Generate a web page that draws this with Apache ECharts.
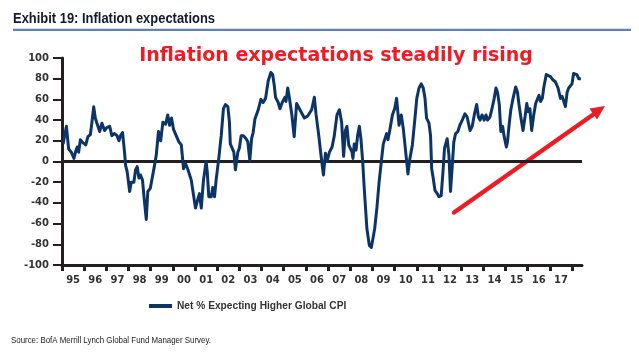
<!DOCTYPE html>
<html><head><meta charset="utf-8">
<script src="https://cdn.jsdelivr.net/npm/echarts@6/dist/echarts.min.js"></script>
<style>html,body{margin:0;padding:0;background:#fff}#c{width:639px;height:355px}</style>
</head><body><div id="c"></div>
<script>
const chartTitle = 'Exhibit 19: Inflation expectations';
const annotation = 'Inflation expectations steadily rising';
const seriesName = 'Net % Expecting Higher Global CPI';
const sourceNote = 'Source: BofA Merrill Lynch Global Fund Manager Survey.';
const yearTicks = [1995,1996,1997,1998,1999,2000,2001,2002,2003,2004,2005,2006,2007,2008,2009,2010,2011,2012,2013,2014,2015,2016,2017,2018];
const yearLabels = ['95','96','97','98','99','00','01','02','03','04','05','06','07','08','09','10','11','12','13','14','15','16','17'];

const dates = [
1995.05,1995.20,1995.30,1995.42,1995.54,1995.62,1995.69,1995.75,1995.83,1995.95,
1996.07,1996.17,1996.28,1996.35,1996.43,1996.50,1996.62,1996.70,1996.80,1996.92,
1997.03,1997.15,1997.25,1997.37,1997.48,1997.57,1997.64,1997.73,1997.82,1997.87,1997.94,
1998.05,1998.12,1998.24,1998.32,1998.39,1998.47,1998.54,1998.63,1998.72,1998.80,1998.87,1998.98,
1999.07,1999.17,1999.25,1999.35,1999.45,1999.55,1999.67,1999.77,1999.85,1999.94,
2000.03,2000.15,2000.27,2000.38,2000.48,2000.57,2000.68,2000.83,2000.90,
2001.02,2001.13,2001.20,2001.28,2001.38,2001.50,2001.55,2001.62,2001.73,2001.80,2001.88,2001.95,
2002.07,2002.18,2002.28,2002.37,2002.48,2002.55,2002.59,2002.67,2002.75,2002.82,2002.93,
2003.00,2003.08,2003.18,2003.30,2003.38,2003.47,2003.55,2003.62,2003.70,2003.85,2003.97,
2004.07,2004.18,2004.30,2004.42,2004.50,2004.57,2004.63,2004.75,2004.83,2004.93,
2005.05,2005.10,2005.18,2005.25,2005.36,2005.47,2005.58,2005.73,2005.93,
2006.08,2006.26,2006.38,2006.46,2006.58,2006.68,2006.79,2006.88,2006.95,
2007.06,2007.18,2007.28,2007.40,2007.51,2007.61,2007.70,2007.78,2007.85,2007.93,
2008.00,2008.08,2008.12,2008.18,2008.26,2008.33,2008.41,2008.48,2008.56,2008.63,2008.75,2008.86,2008.95,
2009.10,2009.20,2009.30,2009.40,2009.49,2009.57,2009.64,2009.70,2009.78,2009.90,
2010.00,2010.09,2010.20,2010.30,2010.39,2010.50,2010.60,2010.69,2010.80,2010.90,
2011.00,2011.10,2011.20,2011.29,2011.37,2011.44,2011.55,2011.62,2011.67,2011.74,2011.82,2011.92,
2012.00,2012.10,2012.19,2012.25,2012.37,2012.45,2012.52,2012.60,2012.67,2012.75,2012.85,2012.94,
2013.05,2013.17,2013.27,2013.40,2013.50,2013.60,2013.70,2013.78,2013.85,2013.94,
2014.04,2014.12,2014.19,2014.30,2014.39,2014.49,2014.57,2014.64,2014.72,2014.79,2014.87,2014.94,
2015.04,2015.09,2015.16,2015.24,2015.34,2015.46,2015.54,2015.61,2015.69,2015.79,2015.88,2015.96,
2016.03,2016.10,2016.18,2016.28,2016.36,2016.43,2016.51,2016.58,2016.66,2016.73,2016.84,2016.93,
2017.03,2017.13,2017.25,2017.37,2017.48,2017.55,2017.63,2017.70,2017.78,2017.85,2017.93,
2018.00,2018.07,2018.15,2018.22,2018.30,2018.40
];
const values = [
17,34,12,9,3,10,14,9,21,18,
16,24,26,38,53,42,34,29,37,30,
33,34,25,27,25,20,25,28,9,-4,-10,
-29,-20,-20,-8,-5,-16,-13,-18,-39,-56,-29,-26,
-25,-4,6,29,20,38,36,45,35,42,
31,25,19,16,-7,-2,-8,-18,-28,
-45,-36,-31,-45,-18,0,-10,-34,-34,-25,-34,-18,
3,25,51,55,53,38,17,16,9,-8,9,
13,25,25,22,19,1,22,28,41,50,60,
57,61,78,86,84,74,62,57,51,57,
62,58,71,62,46,24,56,50,42,
44,50,62,45,25,6,-13,8,0,
9,14,25,45,50,38,5,30,34,16,
17,9,3,17,11,25,34,22,0,-26,-65,-81,-83,
-65,-45,-20,0,17,16,27,21,30,45,
51,61,35,45,32,9,-12,3,16,38,
61,71,75,71,61,42,37,25,-7,-16,-28,-31,
-34,-33,-7,13,22,6,-29,-4,19,27,29,35,
40,46,43,30,34,46,55,43,40,45,
40,45,40,43,51,61,71,67,55,29,34,24,
14,19,35,50,61,72,67,55,43,30,43,56,
48,51,30,46,56,55,64,58,61,72,84,85,
82,79,77,71,61,63,58,53,67,71,72,
75,85,85,84,80,80
];

const sans = '"Liberation Sans", Arial, sans-serif';
const wide = '"DejaVu Sans", Verdana, sans-serif';
const axisColor = '#231f20';
const navy = '#0c3466';
const red = '#ed1c24';

// horizontal squeeze so that condensed-looking text fits its original width
const measureCtx = document.createElement('canvas').getContext('2d');
function fitScale(text, font, width) {
  measureCtx.font = font;
  const w = measureCtx.measureText(text).width;
  return w > 0 ? Math.min(1, width / w) : 1;
}
const titleFont = 'bold 14px ' + sans;
const sourceFont = '9.5px ' + sans;

const chart = echarts.init(document.getElementById('c'), null, {renderer: 'canvas'});
chart.setOption({
  animation: false,
  backgroundColor: '#ffffff',
  grid: {left: 62, right: 57, top: 58, bottom: 90, containLabel: false},
  legend: {
    data: [seriesName],
    left: 144, top: 296,
    icon: 'rect', itemWidth: 23, itemHeight: 4, itemGap: 10,
    textStyle: {fontFamily: sans, fontWeight: 'bold', fontSize: 10.2, color: '#333333'}
  },
  xAxis: {
    type: 'value', min: 1995, max: 2018.45,
    splitLine: {show: false},
    axisLine: {show: true, onZero: false, lineStyle: {color: axisColor, width: 3}},
    axisTick: {show: true, customValues: yearTicks, length: 6, lineStyle: {color: axisColor, width: 3}},
    axisLabel: {
      customValues: yearLabels.map((s, i) => yearTicks[i] + 0.5),
      formatter: v => yearLabels[Math.floor(v) - 1995] || '',
      fontFamily: wide, fontWeight: 'bold', fontSize: 10, color: '#333333', margin: 10
    }
  },
  yAxis: {
    type: 'value', min: -100, max: 100, interval: 20,
    splitLine: {show: false},
    axisLine: {show: true, lineStyle: {color: axisColor, width: 3}},
    axisTick: {show: true, length: 9, lineStyle: {color: axisColor, width: 2}},
    axisLabel: {fontFamily: wide, fontWeight: 'bold', fontSize: 10, color: '#333333', margin: 13}
  },
  series: [{
    name: seriesName,
    type: 'line',
    data: dates.map((d, i) => [d, values[i]]),
    showSymbol: false,
    symbol: 'none',
    color: navy,
    lineStyle: {color: navy, width: 3, join: 'round'},
    z: 3,
    markLine: {
      silent: true, symbol: 'none', label: {show: false},
      lineStyle: {color: axisColor, width: 3, type: 'solid'},
      data: [{yAxis: 0}],
      z: 2
    }
  }],
  graphic: [
    {type: 'text', x: 13, y: 19.5, scaleX: fitScale(chartTitle, titleFont, 202),
     style: {text: chartTitle, font: titleFont, fill: '#121a2e', verticalAlign: 'middle', align: 'left'}},
    {type: 'rect', shape: {x: 13, y: 28.8, width: 618, height: 2.2}, style: {fill: '#5b84b8'}},
    {type: 'text', x: 336, y: 56, style: {text: annotation, font: 'bold 19px ' + wide, fill: red, verticalAlign: 'middle', align: 'center'}},
    {type: 'line', shape: {x1: 454, y1: 212.5, x2: 594, y2: 114}, style: {stroke: red, lineWidth: 4.5, lineCap: 'round'}},
    {type: 'polygon', shape: {points: [[605, 106], [597, 119.5], [589.5, 108.5]]}, style: {fill: red}},
    {type: 'text', x: 11, y: 340.5, scaleX: fitScale(sourceNote, sourceFont, 200),
     style: {text: sourceNote, font: sourceFont, fill: '#222222', verticalAlign: 'middle', align: 'left'}}
  ]
});
</script>
</body></html>
